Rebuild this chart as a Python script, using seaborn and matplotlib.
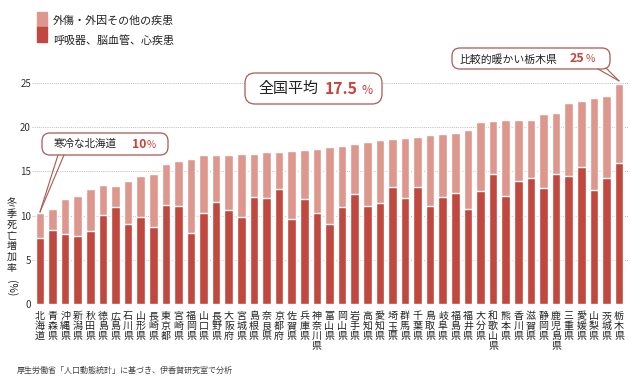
import numpy as np
import pandas as pd
import matplotlib
matplotlib.use("Agg")
import matplotlib.pyplot as plt
import matplotlib.transforms as mtransforms
from matplotlib.patches import FancyBboxPatch, ConnectionPatch, Rectangle
import seaborn as sns

# prefectures, sorted by winter excess mortality
prefectures = [
    "北海道", "青森県", "沖縄県", "新潟県", "秋田県", "徳島県", "広島県", "石川県",
    "山形県", "長崎県", "東京都", "宮崎県", "福岡県", "山口県", "長野県", "大阪府",
    "宮城県", "島根県", "奈良県", "京都府", "佐賀県", "兵庫県", "神奈川県", "富山県",
    "岡山県", "岩手県", "高知県", "愛知県", "埼玉県", "群馬県", "千葉県", "鳥取県",
    "岐阜県", "福島県", "福井県", "大分県", "和歌山県", "熊本県", "香川県", "滋賀県",
    "静岡県", "鹿児島県", "三重県", "愛媛県", "山梨県", "茨城県", "栃木県",
]
# total increase (%)
total_rate = [
    10.3, 10.75, 11.85, 12.25, 13.0, 13.5, 13.4, 13.87, 14.44, 14.66,
    15.86, 16.16, 16.35, 16.8, 16.8, 16.84, 16.95, 16.92, 17.14, 17.25,
    17.36, 17.47, 17.58, 17.8, 17.92, 18.1, 18.3, 18.5, 18.68, 18.83,
    18.94, 19.1, 19.28, 19.32, 19.7, 20.6, 20.75, 20.83, 20.83, 20.83,
    21.5, 21.6, 22.75, 22.98, 23.25, 23.5, 24.94,
]
# respiratory / cerebrovascular / heart disease part (%)
cardio_rate = [
    7.5, 8.35, 7.9, 7.67, 8.3, 10.07, 10.94, 9.1, 9.8, 8.72,
    11.16, 11.08, 8.08, 10.3, 11.5, 10.67, 9.88, 12.06, 12.03, 12.97,
    9.66, 11.84, 10.26, 9.06, 11.0, 12.5, 11.1, 11.47, 13.2, 12.04,
    13.28, 11.13, 12.15, 12.53, 10.7, 12.8, 14.7, 12.2, 13.96, 14.26,
    13.13, 14.68, 14.45, 15.47, 12.9, 14.2, 15.9,
]
legend_labels = ["外傷・外因その他の疾患", "呼吸器、脳血管、心疾患"]
y_label = "冬季死亡増加率"

LIGHT = "#dd978d"
DARK = "#c0483e"
ACCENT = "#c8433a"
EDGE = "#a95a54"

sns.set_style("white")
plt.rcParams["font.family"] = ["Noto Sans CJK JP", "DejaVu Sans"]

df = pd.DataFrame({"pref": prefectures, "total": total_rate, "cardio": cardio_rate})

fig = plt.figure(figsize=(6.4, 3.85), dpi=100)
ax = fig.add_axes([32.4 / 640, 1 - 304 / 385, (627.8 - 32.4) / 640, 25.5 * 8.84 / 385])

sns.barplot(data=df, x="pref", y="total", color=LIGHT, saturation=1, width=0.68, ax=ax, zorder=2)
sns.barplot(data=df, x="pref", y="cardio", color=DARK, saturation=1, width=0.68, ax=ax, zorder=3)

ax.set_xlim(-0.6, len(prefectures) - 0.3)
ax.set_ylim(0, 25.5)
ax.set_yticks([0, 5, 10, 15, 20, 25])
ax.set_yticklabels(["0", "5", "10", "15", "20", "25"], fontsize=7, color="#333333")
ax.set_xticks(range(len(prefectures)))
ax.set_xticklabels(["\n".join(p) for p in prefectures], fontsize=7.2, linespacing=1.0,
                   va="top", color="#222222")
ax.tick_params(axis="both", length=0)
ax.tick_params(axis="x", pad=5)
ax.tick_params(axis="y", pad=1)
ax.set_xlabel("")
ax.set_ylabel("")
for s in ax.spines.values():
    s.set_visible(False)
ax.set_axisbelow(True)
ax.yaxis.grid(True, linestyle=(0, (1, 1.2)), color="#bbbbbb", lw=0.7)

# pixel coordinates (origin top-left)
px = mtransforms.Affine2D().scale(1 / 100, -1 / 100).translate(0, 3.85) + fig.dpi_scale_trans

# y label, stacked vertically one character at a time
for i, ch in enumerate(y_label):
    fig.text(11.5, 203 + i * 10.8, ch, transform=px, fontsize=7.2, ha="center", va="center",
             color="#222222")
fig.text(11.5, 288, "(%)", transform=px, fontsize=7.4, ha="center", va="center",
         rotation=-90, color="#222222")

# legend
fig.patches.append(Rectangle((37, 12), 10, 15, transform=px, color=LIGHT, figure=fig))
fig.patches.append(Rectangle((37, 27), 10, 15, transform=px, color=DARK, figure=fig))
fig.text(53, 21, legend_labels[0], transform=px, fontsize=7.9, va="center", color="#222222")
fig.text(53, 40, legend_labels[1], transform=px, fontsize=7.9, va="center", color="#222222")


def bubble(x0, y0, w, h, r):
    box = FancyBboxPatch((x0, y0), w, h, boxstyle=f"round,pad=0,rounding_size={r}",
                         transform=px, facecolor="white", edgecolor=EDGE, lw=0.9, zorder=5)
    fig.patches.append(box)


def tail(base, tip_idx, tip_val):
    for b in base:
        con = ConnectionPatch(xyA=b, coordsA=px, xyB=(tip_idx, tip_val), coordsB=ax.transData,
                              color=EDGE, lw=0.8, zorder=6)
        fig.add_artist(con)


# Hokkaido
bubble(42, 133, 126, 22, 8)
tail([(58, 155), (64, 155)], 0, total_rate[0] + 0.1)
fig.text(54, 144, "寒冷な北海道", transform=px, fontsize=7.6, va="center", color="#222222", zorder=7)
fig.text(132, 144, "10", transform=px, fontsize=8.8, va="center", color=ACCENT,
         fontweight="bold", zorder=7)
fig.text(146.5, 144.5, "%", transform=px, fontsize=7.2, va="center", color=ACCENT, zorder=7)

# national average
bubble(245, 73, 137, 31, 10)
fig.text(258, 89, "全国平均", transform=px, fontsize=10.8, va="center", color="#222222", zorder=7)
fig.text(325, 89, "17.5", transform=px, fontsize=11.4, va="center", color=ACCENT,
         fontweight="bold", zorder=7)
fig.text(361, 90, "%", transform=px, fontsize=8.6, va="center", color=ACCENT, zorder=7)

# Tochigi
bubble(452, 48, 158, 21, 8)
tail([(598, 69), (606, 68)], len(prefectures) - 1, total_rate[-1] + 0.3)
fig.text(460, 59, "比較的暖かい栃木県", transform=px, fontsize=7.8, va="center", color="#222222", zorder=7)
fig.text(570, 59, "25", transform=px, fontsize=9, va="center", color=ACCENT,
         fontweight="bold", zorder=7)
fig.text(586, 59.5, "%", transform=px, fontsize=7.4, va="center", color=ACCENT, zorder=7)

# source
fig.text(17, 370, "厚生労働省「人口動態統計」に基づき、伊香賀研究室で分析", transform=px,
         fontsize=5.8, va="center", color="#444444")

fig.savefig("out.png", dpi=100, facecolor="white")
